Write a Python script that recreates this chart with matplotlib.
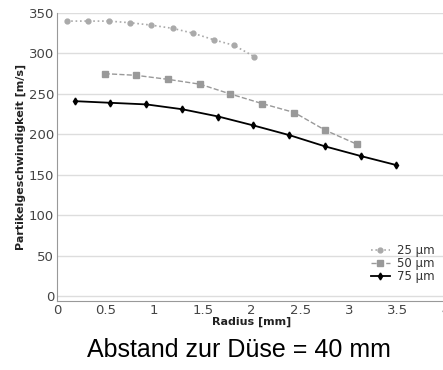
import matplotlib
matplotlib.use("Agg")
import matplotlib.pyplot as plt

# Radius [mm] and particle velocity [m/s] per particle size
r_25 = [0.10, 0.32, 0.53, 0.75, 0.97, 1.19, 1.40, 1.61, 1.82, 2.03]
v_25 = [340, 340, 340, 338, 335, 331, 325, 317, 310, 296]

r_50 = [0.49, 0.81, 1.14, 1.47, 1.78, 2.11, 2.44, 2.76, 3.08]
v_50 = [275, 273, 268, 262, 250, 238, 227, 205, 188]

r_75 = [0.19, 0.55, 0.92, 1.29, 1.66, 2.02, 2.39, 2.76, 3.13, 3.49]
v_75 = [241, 239, 237, 231, 222, 211, 199, 185, 173, 162]

labels = ["25 µm", "50 µm", "75 µm"]
x_ticks = [0, 0.5, 1, 1.5, 2, 2.5, 3, 3.5, 4]
x_tick_labels = ["0", "0.5", "1", "1.5", "2", "2.5", "3", "3.5", "4"]
y_ticks = [0, 50, 100, 150, 200, 250, 300, 350]

fig = plt.figure(figsize=(4.43, 3.70), dpi=100)
ax = fig.add_axes([57 / 443, 1 - 301 / 370, 389 / 443, 288 / 370])

ax.plot(r_25, v_25, linestyle=":", color="#aaaaaa", marker="o",
        markersize=3.5, linewidth=1.2, label=labels[0])
ax.plot(r_50, v_50, linestyle="--", color="#999999", marker="s",
        markersize=4, linewidth=1.0, label=labels[1])
ax.plot(r_75, v_75, linestyle="-", color="black", marker="d",
        markersize=3.5, linewidth=1.3, label=labels[2])

ax.set_xlim(0, 4)
ax.set_ylim(-6, 350)
ax.set_xticks(x_ticks)
ax.set_xticklabels(x_tick_labels)
ax.set_yticks(y_ticks)
ax.tick_params(length=0, labelsize=9.5, colors="#444444", pad=2)
ax.yaxis.grid(True, color="#dddddd", linewidth=1)
ax.set_axisbelow(True)

for side in ["top", "right"]:
    ax.spines[side].set_visible(False)
for side in ["left", "bottom"]:
    ax.spines[side].set_color("#999999")

ax.set_xlabel("Radius [mm]", fontsize=8, fontweight="bold", color="#222222", labelpad=0)
ax.set_ylabel("Partikelgeschwindigkeit [m/s]", fontsize=8, fontweight="bold",
              color="#222222", labelpad=2)

leg = ax.legend(loc="lower right", frameon=False, fontsize=8.5,
                handlelength=1.6, handletextpad=0.6, labelspacing=0.0,
                borderaxespad=0.0, bbox_to_anchor=(0.982, 0.045))
for t in leg.get_texts():
    t.set_color("#333333")

fig.text(239 / 443, 1 - 350 / 370, "Abstand zur Düse = 40 mm",
         fontsize=18, family="Liberation Sans", ha="center", va="center")

fig.savefig("out.png", dpi=100)
